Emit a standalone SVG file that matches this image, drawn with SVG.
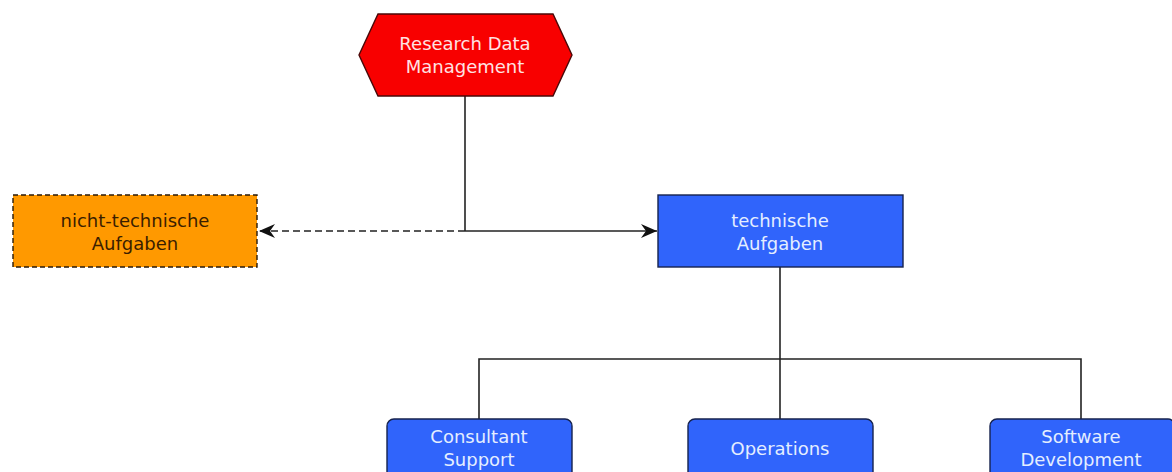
<svg xmlns="http://www.w3.org/2000/svg" width="1172" height="472" viewBox="0 0 1172 472">
<style>
.t{font-family:"DejaVu Sans","Liberation Sans",sans-serif;font-size:18px;text-anchor:middle}
.blue{fill:#3064fb;stroke:#16224d;stroke-width:1.4}
.bt{fill:#e4eeff}
.ln{fill:none;stroke:#222;stroke-width:1.6}
</style>
<defs>
<marker id="ah" markerWidth="18" markerHeight="14" refX="16" refY="7" orient="auto" markerUnits="userSpaceOnUse">
<path d="M0,0 L16,7 L0,14 L5,7 z" fill="#111"/>
</marker>
</defs>
<rect width="1172" height="472" fill="#fff"/>
<g id="connectors">
<path class="ln" d="M465,96 V231"/>
<path class="ln" d="M465,231 H657" marker-end="url(#ah)"/>
<path class="ln" d="M465,231 H259" stroke-dasharray="7,4" marker-end="url(#ah)"/>
<path class="ln" d="M780,267 V359"/>
<path class="ln" d="M479,419 V359 H1081 V419"/>
<path class="ln" d="M780,359 V419"/>
</g>
<g id="rdm">
<polygon points="378,14 553,14 572,55 553,96 378,96 359,55" fill="#f80000" stroke="#4a0808" stroke-width="1.4"/>
<text class="t" x="465" y="50" fill="#ffe2e2">Research Data</text>
<text class="t" x="465" y="73" fill="#ffe2e2">Management</text>
</g>
<g id="nicht-technisch">
<rect x="13" y="195" width="244" height="72" fill="#ff9900" stroke="#2a1a08" stroke-width="1.4" stroke-dasharray="5,3"/>
<text class="t" x="135" y="227" fill="#3a1e00">nicht-technische</text>
<text class="t" x="135" y="250" fill="#3a1e00">Aufgaben</text>
</g>
<g id="technisch">
<rect class="blue" x="658" y="195" width="245" height="72"/>
<text class="t bt" x="780" y="227">technische</text>
<text class="t bt" x="780" y="250">Aufgaben</text>
</g>
<g id="consultant">
<rect class="blue" x="387" y="419" width="185" height="72" rx="7"/>
<text class="t bt" x="479" y="443">Consultant</text>
<text class="t bt" x="479" y="466">Support</text>
</g>
<g id="operations">
<rect class="blue" x="688" y="419" width="185" height="72" rx="7"/>
<text class="t bt" x="780" y="455">Operations</text>
</g>
<g id="software">
<rect class="blue" x="990" y="419" width="185" height="72" rx="7"/>
<text class="t bt" x="1081" y="443">Software</text>
<text class="t bt" x="1081" y="466">Development</text>
</g>
</svg>
